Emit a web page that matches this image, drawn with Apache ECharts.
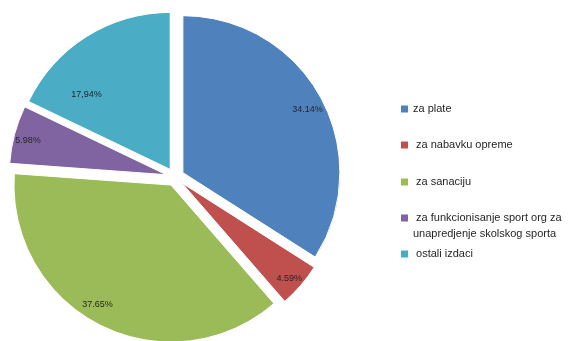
<!DOCTYPE html>
<html>
<head>
<meta charset="utf-8">
<script src="https://cdn.jsdelivr.net/npm/echarts@6/dist/echarts.min.js"></script>
<style>
  html, body { margin: 0; padding: 0; background: #fff; }
  #chart { width: 571px; height: 341px; }
</style>
</head>
<body>
<div id="chart"></div>
<script>
// Budget shares by expense category
const categories = [
  'za plate',
  'za nabavku opreme',
  'za sanaciju',
  'za funkcionisanje sport org za\nunapredjenje skolskog sporta',
  'ostali izdaci'
];
const shares = [34.14, 4.59, 37.65, 5.98, 17.94];
const shareLabels = ['34.14%', '4.59%', '37.65%', '5.98%', '17,94%'];
const colors = ['#4F81BD', '#C0504D', '#9BBB59', '#8064A2', '#4BACC6'];

const center = [175, 177];
const explode = 9;
// small nudges of each percentage label away from the slice bisector
const labelNudge = [[0, 5], [0, 3], [-10, -8], [-1, 2], [-8, 45]];

// every slice is pulled out from the centre
const slices = categories.map((name, i) => ({
  name: name,
  value: shares[i],
  selected: true,
  itemStyle: { color: colors[i] }
}));

// invisible ring whose middle radius sets where the percentage labels sit
const labelRing = {
  type: 'pie',
  z: 5,
  center: center,
  radius: [121, 157],
  startAngle: 90,
  selectedMode: 'multiple',
  selectedOffset: explode,
  animation: false,
  legendHoverLink: false,
  data: categories.map((name, i) => ({
    name: name,
    value: shares[i],
    selected: true,
    itemStyle: { color: 'rgba(0,0,0,0)' }
  })),
  itemStyle: { borderWidth: 0 },
  label: {
    position: 'inside',
    formatter: p => shareLabels[p.dataIndex],
    fontFamily: 'Liberation Sans',
    fontSize: 9,
    color: '#262626'
  },
  labelLayout: p => ({ dx: labelNudge[p.dataIndex][0], dy: labelNudge[p.dataIndex][1] }),
  labelLine: { show: false }
};

const legendCenters = [109, 145, 182, 218, 254];
const legends = categories.map((name, i) => ({
  data: [name],
  orient: 'vertical',
  left: 396,
  top: legendCenters[i] - (i === 3 ? 24 : 8) - 5,
  itemWidth: 7,
  itemHeight: 7,
  icon: 'rect',
  itemStyle: { borderWidth: 0 },
  selectedMode: false,
  formatter: n => i === 0 ? n : (i === 3 ? '\n ' + n : ' ' + n),
  textStyle: {
    fontFamily: 'Liberation Sans',
    fontSize: 11,
    lineHeight: 16,
    color: '#262626'
  }
}));

const chart = echarts.init(document.getElementById('chart'), null, { renderer: 'canvas' });
chart.setOption({
  animation: false,
  color: colors,
  legend: legends,
  series: [
    {
      type: 'pie',
      center: center,
      radius: [0, 157],
      startAngle: 90,
      selectedMode: 'multiple',
      selectedOffset: explode,
      animation: false,
      itemStyle: { borderColor: '#fff', borderWidth: 1 },
      label: { show: false },
      labelLine: { show: false },
      data: slices
    },
    labelRing
  ]
});
</script>
</body>
</html>
